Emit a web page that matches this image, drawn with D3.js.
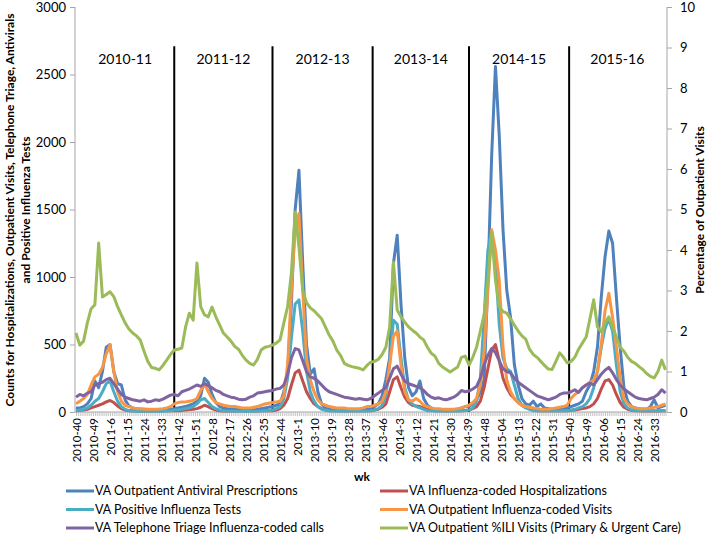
<!DOCTYPE html>
<html lang="en">
<head>
<meta charset="UTF-8"/>
<title>VA influenza surveillance</title>
<script src="https://cdn.jsdelivr.net/npm/d3@7"></script>
<style>
  body { margin: 0; background: #fff; }
  text { font-family: Lato, "Open Sans", sans-serif; fill: #000; }
</style>
</head>
<body>
<div id="chart"></div>
<script>
// weekly categories 2010-40 .. 2016-40, values read every 2nd week
var nWeeks = 313;
var STEP = 2;
var tickLabels = ["2010-40","2010-49","2011-6","2011-15","2011-24","2011-33","2011-42","2011-51",
  "2012-8","2012-17","2012-26","2012-35","2012-44","2013-1","2013-10","2013-19","2013-28","2013-37",
  "2013-46","2014-3","2014-12","2014-21","2014-30","2014-39","2014-48","2015-04","2015-13","2015-22",
  "2015-31","2015-40","2015-49","2016-06","2016-15","2016-24","2016-33"];
var seasons = ["2010-11","2011-12","2012-13","2013-14","2014-15","2015-16"];
var seasonStartWeek = [0, 52, 104, 157, 208, 261];

var antivirals = [30,30,40,60,100,230,180,300,480,500,300,210,200,90,45,30,25,20,20,18,15,15,15,15,18,20,
  25,30,35,40,50,60,80,120,250,220,130,70,40,30,25,20,20,18,15,15,15,15,20,25,30,35,
  40,50,60,150,300,800,1500,1790,1100,500,280,320,150,60,30,20,15,12,10,10,10,12,12,15,20,25,
  30,40,60,120,240,400,1100,1310,800,400,180,120,150,230,100,50,30,20,15,12,10,12,15,20,30,40,
  40,60,90,150,240,977,1900,2560,2050,1350,900,700,350,200,100,60,50,80,40,60,30,25,20,20,25,30,
  30,40,50,60,80,150,200,300,481,850,1150,1340,1250,850,481,180,80,40,30,25,20,20,40,90,30,40,50];
var hospitalizations = [10,12,15,20,30,40,50,60,75,85,70,45,25,15,10,9,8,8,8,8,8,8,8,9,9,10,
  10,10,12,15,18,20,25,35,50,40,25,15,10,8,8,8,8,8,8,8,8,8,8,9,9,10,
  10,15,25,50,100,200,290,310,230,150,100,60,40,25,15,10,10,10,10,10,10,10,10,10,10,10,
  10,15,20,35,60,150,240,260,180,110,70,50,45,40,30,20,15,10,10,10,10,10,10,10,10,12,
  15,25,40,80,180,320,460,500,380,250,180,130,100,70,50,35,25,15,10,10,10,10,10,10,10,10,
  10,12,15,20,25,30,40,60,100,170,230,240,200,130,70,35,20,12,10,9,8,8,8,8,8,9,10];
var positiveTests = [10,15,20,30,50,80,100,150,210,230,150,80,40,20,10,8,6,5,5,5,5,5,5,6,8,10,
  15,15,20,25,30,40,60,90,100,70,40,25,15,10,8,8,8,6,6,6,6,6,7,8,9,10,
  15,25,40,100,250,550,800,830,600,300,150,80,40,20,15,10,8,8,8,8,8,8,8,8,8,8,
  10,15,25,50,120,350,680,650,400,180,90,60,40,30,20,10,10,8,8,8,8,8,8,8,10,12,
  15,30,80,250,700,1200,1340,1100,650,400,320,300,200,100,50,30,20,10,10,10,10,10,10,10,10,10,
  10,15,20,30,40,60,100,180,300,480,620,690,600,350,150,60,30,15,10,10,10,10,10,10,10,10,10];
var outpatientVisits = [60,80,100,130,200,260,280,330,430,500,300,150,80,50,40,30,25,25,20,20,20,20,22,25,30,40,
  60,70,75,75,80,85,100,160,210,150,100,70,60,50,45,40,40,35,30,30,30,35,40,50,60,65,
  70,75,80,120,350,900,1350,1470,900,400,237,150,90,60,50,40,35,30,30,30,25,25,25,25,30,40,
  40,50,60,80,150,350,560,600,350,150,90,80,100,80,50,40,30,25,25,20,20,20,20,25,30,40,
  50,70,100,200,450,900,1350,1200,977,480,237,150,100,70,50,40,35,30,25,20,20,20,25,30,35,40,
  50,100,130,150,180,200,220,237,300,500,750,880,700,481,250,100,60,40,30,25,25,25,30,35,40,50,60];
var triageCalls = [110,130,120,140,150,200,210,220,240,250,210,170,130,110,100,90,85,80,90,75,80,90,85,95,110,125,
  130,120,150,160,170,185,200,190,210,195,180,160,150,130,120,110,105,95,90,95,110,120,140,145,150,155,
  160,170,175,200,280,400,470,460,380,300,260,250,230,200,170,150,140,130,120,110,105,100,95,100,95,90,
  100,120,140,160,180,250,320,340,280,230,210,200,190,180,160,130,110,100,105,95,90,100,110,130,160,150,
  155,170,190,250,350,420,470,440,380,320,300,290,250,220,200,180,160,140,120,110,100,90,100,110,130,140,
  140,150,165,145,180,200,215,200,240,280,310,330,290,240,200,170,150,130,110,100,95,90,100,110,130,165,140];
var iliPercent = [1.95,1.65,1.75,2.2,2.55,2.65,4.17,2.84,2.9,2.97,2.85,2.6,2.4,2.2,2.05,1.95,1.88,1.78,1.5,1.25,1.1,1.08,1.04,1.15,1.28,1.42,
  1.53,1.55,1.58,2.1,2.44,2.27,3.68,2.6,2.4,2.35,2.59,2.35,2.15,1.95,1.85,1.75,1.62,1.55,1.4,1.28,1.2,1.16,1.3,1.53,1.6,1.62,
  1.65,1.7,1.78,2.2,2.6,3.43,4.94,4.07,3.0,2.7,2.57,2.5,2.4,2.3,2.1,1.9,1.75,1.53,1.4,1.2,1.15,1.12,1.1,1.08,1.04,1.15,
  1.23,1.25,1.3,1.42,1.6,2.1,3.7,2.52,2.35,2.22,2.1,2.02,1.95,1.85,1.78,1.6,1.45,1.38,1.2,1.11,1.05,0.99,1.05,1.11,1.35,1.38,
  1.16,1.35,1.6,2.0,2.4,3.26,4.42,3.26,2.6,2.48,2.44,2.3,2.15,2.0,1.88,1.8,1.55,1.42,1.35,1.25,1.15,1.06,1.05,1.25,1.46,1.35,
  1.21,1.25,1.35,1.55,1.7,1.85,2.3,2.77,2.1,1.98,2.2,2.35,2.1,1.85,1.6,1.5,1.35,1.25,1.2,1.12,1.05,0.95,0.88,0.84,1.0,1.28,1.04];

var seriesNames = ["VA Outpatient Antiviral Prescriptions","VA Influenza-coded Hospitalizations",
  "VA Positive Influenza Tests","VA Outpatient Influenza-coded Visits",
  "VA Telephone Triage Influenza-coded calls","VA Outpatient %ILI Visits (Primary & Urgent Care)"];
var seriesColors = ["#4f81bd","#c0504d","#4bacc6","#f79646","#8064a2","#9bbb59"];
var seriesData = [antivirals, hospitalizations, positiveTests, outpatientVisits, triageCalls, iliPercent];

var width = 709, height = 535;
var plotL = 75, plotR = 667, plotT = 7, plotB = 412;

var svg = d3.select('#chart').append('svg')
  .attr('width', width)
  .attr('height', height);

var x = d3.scaleLinear().domain([0, nWeeks - 1]).range([76, 665.5]);
var yL = d3.scaleLinear().domain([0, 3000]).range([plotB, plotT]);
var yR = d3.scaleLinear().domain([0, 10]).range([plotB, plotT]);

// axes
var axisColor = '#a6a6a6';
var gl = svg.append('g').attr('transform', 'translate(' + plotL + ',0)')
  .call(d3.axisLeft(yL).tickValues(d3.range(0, 3001, 500)).tickFormat(d3.format('d'))
    .tickSize(5).tickPadding(4));
var gr = svg.append('g').attr('transform', 'translate(' + plotR + ',0)')
  .call(d3.axisRight(yR).tickValues(d3.range(0, 11, 1)).tickSize(5).tickPadding(8));
[gl, gr].forEach(function(g) {
  g.select('.domain').attr('stroke', axisColor).attr('d', 'M0,' + plotT + 'V' + plotB);
  g.selectAll('.tick line').attr('stroke', axisColor);
  g.selectAll('.tick text').style('font-size', '13px').style('font-family', 'Lato, sans-serif');
});

var gx = svg.append('g').attr('transform', 'translate(0,' + plotB + ')')
  .call(d3.axisBottom(x).tickValues(d3.range(0, nWeeks)).tickSize(4).tickPadding(4)
    .tickFormat(function(i) { return i % 9 === 0 ? tickLabels[i / 9] : ''; }));
gx.select('.domain').attr('stroke', axisColor).attr('d', 'M' + plotL + ',0H' + plotR);
gx.selectAll('.tick line').attr('stroke', '#b8b8b8').attr('stroke-width', 0.8);
gx.selectAll('.tick text')
  .style('font-size', '11.5px').style('font-family', 'Lato, sans-serif')
  .attr('transform', 'rotate(-90)')
  .attr('x', -6).attr('y', 0).attr('dy', '0.35em')
  .attr('text-anchor', 'end');

// season dividers
svg.selectAll('.divider').data(seasonStartWeek.slice(1)).enter().append('line')
  .attr('class', 'divider')
  .attr('x1', function(d) { return x(d); }).attr('x2', function(d) { return x(d); })
  .attr('y1', yL(2710)).attr('y2', plotB)
  .attr('stroke', '#000').attr('stroke-width', 2);

var seasonEnds = seasonStartWeek.slice(1).concat([nWeeks - 1]);
svg.selectAll('.season').data(seasons).enter().append('text')
  .attr('class', 'season')
  .attr('x', function(d, i) { return x((seasonStartWeek[i] + seasonEnds[i]) / 2); })
  .attr('y', yL(2580))
  .attr('text-anchor', 'middle')
  .style('font-size', '14px')
  .text(function(d) { return d; });

// series lines
seriesData.forEach(function(vals, s) {
  var ys = s === 5 ? yR : yL;
  var line = d3.line()
    .x(function(d, k) { return x(k * STEP); })
    .y(function(d) { return ys(d); });
  svg.append('path')
    .datum(vals)
    .attr('d', line)
    .attr('fill', 'none')
    .attr('stroke', seriesColors[s])
    .attr('stroke-width', 3)
    .attr('stroke-linejoin', 'round');
});

// axis titles
svg.append('text')
  .attr('transform', 'translate(14,210) rotate(-90)')
  .attr('text-anchor', 'middle')
  .style('font-size', '12px').style('font-weight', 'bold')
  .text('Counts for Hospitalizations, Outpatient Visits, Telephone Triage, Antivirals');
svg.append('text')
  .attr('transform', 'translate(30,210) rotate(-90)')
  .attr('text-anchor', 'middle')
  .style('font-size', '12px').style('font-weight', 'bold')
  .text('and Positive Influenza Tests');
svg.append('text')
  .attr('transform', 'translate(704,210) rotate(-90)')
  .attr('text-anchor', 'middle')
  .style('font-size', '12px').style('font-weight', 'bold')
  .text('Percentage of Outpatient Visits');
svg.append('text')
  .attr('x', 362).attr('y', 481)
  .attr('text-anchor', 'middle')
  .style('font-size', '12px').style('font-weight', 'bold')
  .text('wk');

// legend, two columns
var leg = svg.selectAll('.leg').data(seriesNames).enter().append('g')
  .attr('class', 'leg')
  .attr('transform', function(d, i) {
    return 'translate(' + (i % 2 === 0 ? 66 : 380) + ',' + (491 + Math.floor(i / 2) * 18.5) + ')';
  });
leg.append('line')
  .attr('x1', 0).attr('x2', 28).attr('y1', 0).attr('y2', 0)
  .attr('stroke', function(d, i) { return seriesColors[i]; })
  .attr('stroke-width', 3);
leg.append('text')
  .attr('x', 29).attr('y', 0).attr('dy', '0.35em')
  .style('font-size', '12.5px')
  .text(function(d) { return d; });
</script>
</body>
</html>
